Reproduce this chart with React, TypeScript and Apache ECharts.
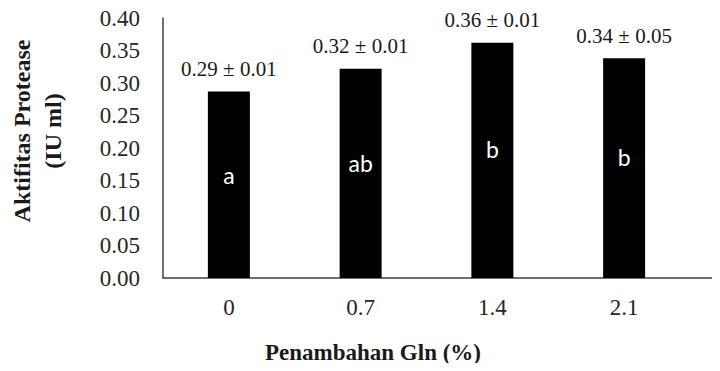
import React, { useEffect, useRef } from "react";
import * as echarts from "echarts";

const categories = ["0", "0.7", "1.4", "2.1"];
const means = [0.287, 0.322, 0.362, 0.338];
const sds = [0.01, 0.01, 0.01, 0.05];
const letters = ["a", "ab", "b", "b"];
const yTicks = { min: 0, max: 0.4, interval: 0.05 };
const yTitle = "Aktifitas Protease\n(IU ml)";
const xTitle = "Penambahan Gln (%)";

const serif = "'Liberation Serif', 'Times New Roman', serif";

export default function App() {
  const ref = useRef<HTMLDivElement>(null);
  useEffect(() => {
    if (!ref.current) return;
    const chart = echarts.init(ref.current, null, { renderer: "svg" });
    const gridTop = 18;
    const gridBottom = 93;
    const gridLeft = 163;
    chart.setOption({
      animation: false,
      backgroundColor: "#ffffff",
      grid: [
        { left: gridLeft, right: 30, top: gridTop, bottom: gridBottom },
        { left: gridLeft, right: 0, top: gridTop, bottom: gridBottom },
      ],
      xAxis: [
        {
          type: "category",
          gridIndex: 0,
          data: categories,
          axisLine: { show: false },
          axisTick: { show: false },
          axisLabel: {
            margin: 18,
            fontFamily: serif,
            fontSize: 23,
            color: "#262626",
          },
        },
        {
          type: "value",
          gridIndex: 1,
          min: 0,
          max: 1,
          axisLine: { show: true, onZero: false, lineStyle: { color: "#404040", width: 1.5 } },
          axisTick: { show: false },
          axisLabel: { show: false },
          splitLine: { show: false },
        },
      ],
      yAxis: [
        {
          type: "value",
          gridIndex: 0,
          min: yTicks.min,
          max: yTicks.max,
          interval: yTicks.interval,
          axisLine: { show: true, lineStyle: { color: "#404040", width: 1.5 } },
          axisTick: { show: false },
          splitLine: { show: false },
          axisLabel: {
            margin: 23,
            fontFamily: serif,
            fontSize: 23,
            color: "#262626",
            formatter: (v: number) => v.toFixed(2),
          },
        },
        {
          type: "value",
          gridIndex: 1,
          show: false,
          min: 0,
          max: 1,
        },
      ],
      series: [
        {
          type: "bar",
          xAxisIndex: 0,
          yAxisIndex: 0,
          data: means,
          barWidth: 42,
          itemStyle: { color: "#000000" },
          label: {
            show: true,
            position: "top",
            distance: 12,
            fontFamily: serif,
            fontSize: 21,
            color: "#1a1a1a",
            formatter: (p: any) =>
              `${means[p.dataIndex].toFixed(2)} ± ${sds[p.dataIndex].toFixed(2)}`,
          },
        },
        {
          type: "bar",
          xAxisIndex: 0,
          yAxisIndex: 0,
          data: means,
          barWidth: 42,
          barGap: "-100%",
          itemStyle: { color: "rgba(0,0,0,0)" },
          label: {
            show: true,
            position: ["50%", "45%"],
            align: "center",
            verticalAlign: "middle",
            fontFamily: "Lato, 'Open Sans', sans-serif",
            fontSize: 23,
            color: "#ffffff",
            formatter: (p: any) => letters[p.dataIndex],
          },
        },
      ],
      graphic: [
        {
          type: "text",
          x: 37,
          y: 131,
          rotation: Math.PI / 2,
          style: {
            text: yTitle,
            fontFamily: serif,
            fontWeight: "bold",
            fontSize: 24,
            lineHeight: 31,
            fill: "#1a1a1a",
            align: "center",
            verticalAlign: "middle",
          },
        },
        {
          type: "text",
          x: 373,
          y: 352,
          style: {
            text: xTitle,
            fontFamily: serif,
            fontWeight: "bold",
            fontSize: 23,
            fill: "#1a1a1a",
            align: "center",
            verticalAlign: "middle",
          },
        },
      ],
    });
    return () => chart.dispose();
  }, []);
  return <div ref={ref} style={{ width: 720, height: 371, margin: -8 }} />;
}
